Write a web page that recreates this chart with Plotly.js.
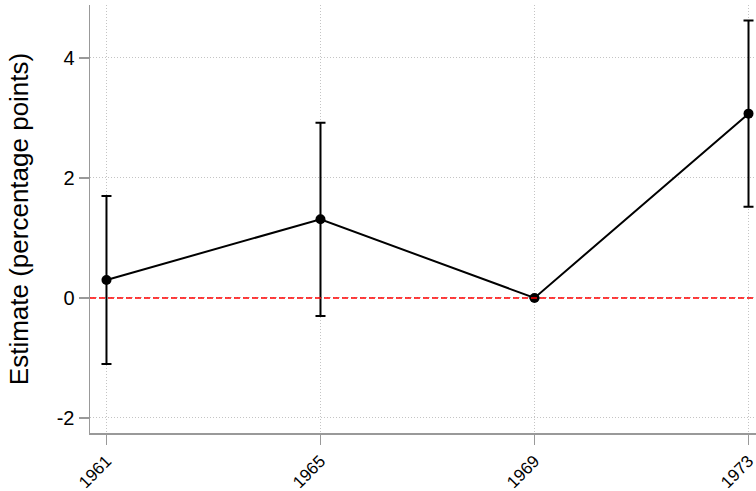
<!DOCTYPE html>
<html>
<head>
<meta charset="utf-8">
<script src="https://cdn.plot.ly/plotly-3.0.1.min.js"></script>
<style>
  html, body { margin: 0; padding: 0; background: #fff; }
  #chart { width: 756px; height: 491px; }
</style>
</head>
<body>
<div id="chart"></div>
<script>
// values
var years = ['1961', '1965', '1969', '1973'];
var estimates = [0.30, 1.31, 0.00, 3.07];
var ciHalf = [1.40, 1.61, 0.00, 1.55];
var yTicks = [-2, 0, 2, 4];

var trace = {
  x: years,
  y: estimates,
  type: 'scatter',
  mode: 'lines+markers',
  line: {color: '#000', width: 2},
  marker: {color: '#000', size: 10},
  error_y: {type: 'data', array: ciHalf, visible: true, color: '#000', thickness: 2, width: 5},
  hoverinfo: 'skip'
};

var fam = '"Liberation Sans", Arial, sans-serif';

var layout = {
  width: 756,
  height: 491,
  margin: {l: 90, r: 0, t: 5, b: 58},
  paper_bgcolor: '#fff',
  plot_bgcolor: '#fff',
  showlegend: false,
  font: {family: fam, color: '#000', size: 17},
  xaxis: {
    type: 'category',
    range: [-0.077, 3.035],
    tickangle: -45,
    tickfont: {family: fam, size: 17, color: '#000'},
    ticks: 'outside',
    ticklen: 10,
    tickcolor: '#999',
    tickwidth: 1.5,
    showline: true,
    linecolor: '#999',
    linewidth: 1.5,
    showgrid: true,
    gridcolor: '#c4c4c4',
    griddash: '1px,2px',
    gridwidth: 1,
    zeroline: false
  },
  yaxis: {
    range: [-2.25, 4.88],
    tickvals: yTicks,
    ticktext: yTicks.map(String),
    tickfont: {family: fam, size: 20, color: '#000'},
    ticks: 'outside',
    ticklen: 10,
    tickcolor: '#999',
    tickwidth: 1.5,
    showline: true,
    linecolor: '#999',
    linewidth: 1.5,
    showgrid: true,
    gridcolor: '#c4c4c4',
    griddash: '1px,2px',
    gridwidth: 1,
    zeroline: false,
    title: {text: 'Estimate (percentage points)', font: {family: fam, size: 26, color: '#000'}, standoff: 20}
  },
  shapes: [{
    type: 'line', xref: 'paper', yref: 'y',
    x0: 0, x1: 1, y0: 0, y1: 0,
    line: {color: '#ff0000', width: 1.5, dash: '6px,3px'},
    layer: 'above'
  }]
};

Plotly.newPlot('chart', [trace], layout, {displayModeBar: false, staticPlot: true});
</script>
</body>
</html>
